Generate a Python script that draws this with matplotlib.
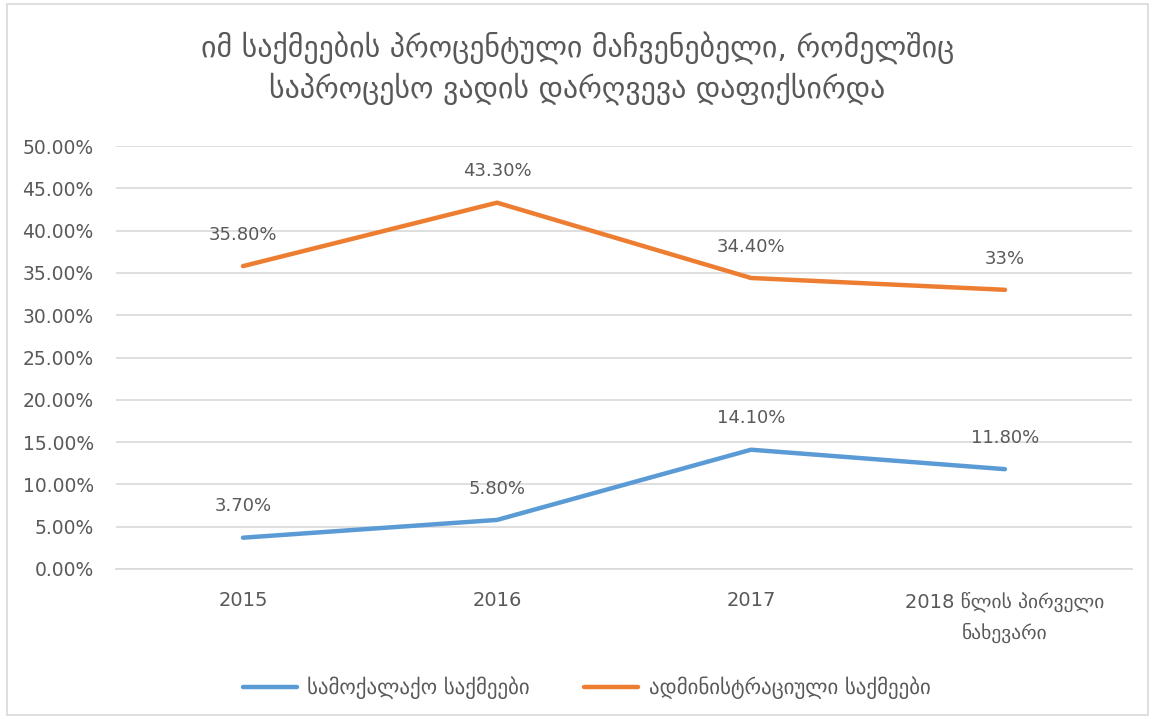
import matplotlib
matplotlib.use("Agg")
from matplotlib import pyplot as plt
from matplotlib.ticker import FuncFormatter

# data
categories = ["2015", "2016", "2017", "2018 წლის პირველი\nნახევარი"]
civil = [3.7, 5.8, 14.1, 11.8]
admin = [35.8, 43.3, 34.4, 33.0]
civil_labels = ["3.70%", "5.80%", "14.10%", "11.80%"]
admin_labels = ["35.80%", "43.30%", "34.40%", "33%"]
series_names = ["სამოქალაქო საქმეები", "ადმინისტრაციული საქმეები"]
title = "იმ საქმეების პროცენტული მაჩვენებელი, რომელშიც\nსაპროცესო ვადის დარღვევა დაფიქსირდა"

grey = "#595959"
blue = "#5B9BD5"
orange = "#ED7D31"

plt.rcParams['font.family'] = ['DejaVu Sans']

fig = plt.figure(figsize=(11.55, 7.19), dpi=100)
ax = fig.add_axes([116 / 1155, 1 - 569 / 719, 1016 / 1155, 423 / 719])

x = list(range(len(categories)))
ax.plot(x, civil, color=blue, lw=3.2, solid_capstyle="round", label=series_names[0])
ax.plot(x, admin, color=orange, lw=3.2, solid_capstyle="round", label=series_names[1])

for xi, v, t in zip(x, civil, civil_labels):
    ax.annotate(t, (xi, v), xytext=(0, 22.5), textcoords="offset points",
                ha="center", va="center", fontsize=13, color=grey)
for xi, v, t in zip(x, admin, admin_labels):
    ax.annotate(t, (xi, v), xytext=(0, 22.5), textcoords="offset points",
                ha="center", va="center", fontsize=13, color=grey)

ax.set_xlim(-0.5, 3.5)
ax.set_ylim(0, 50)
ax.set_yticks(range(0, 51, 5))
ax.yaxis.set_major_formatter(FuncFormatter(lambda v, p: "%.2f%%" % v))
ax.set_xticks(x)
ax.set_xticklabels(categories, linespacing=1.7)
ax.tick_params(axis="both", length=0, colors=grey)
ax.tick_params(axis="y", labelsize=13.5, pad=16)
ax.tick_params(axis="x", labelsize=14, pad=16)
ax.grid(axis="y", color="#D9D9D9", lw=1.2)
ax.set_axisbelow(True)
for s in ["top", "right", "left"]:
    ax.spines[s].set_visible(False)
ax.spines["bottom"].set_color("#D9D9D9")
ax.spines["bottom"].set_linewidth(1.2)

fig.text(0.5, 1 - 68 / 719, title, ha="center", va="center", fontsize=21.5,
         color=grey, linespacing=1.35)

leg = fig.legend(loc="center", bbox_to_anchor=(0.508, 1 - 688 / 719), ncol=2,
                 frameon=False, fontsize=15, handlelength=2.6,
                 handletextpad=0.5, columnspacing=2.6)
for t in leg.get_texts():
    t.set_color(grey)

border = plt.Rectangle((7 / 1155, 4 / 719), 1 - 14 / 1155, 1 - 8 / 719,
                       transform=fig.transFigure, fill=False, ec="#D9D9D9", lw=1.2)
fig.patches.append(border)

fig.savefig("out.png", dpi=100)
